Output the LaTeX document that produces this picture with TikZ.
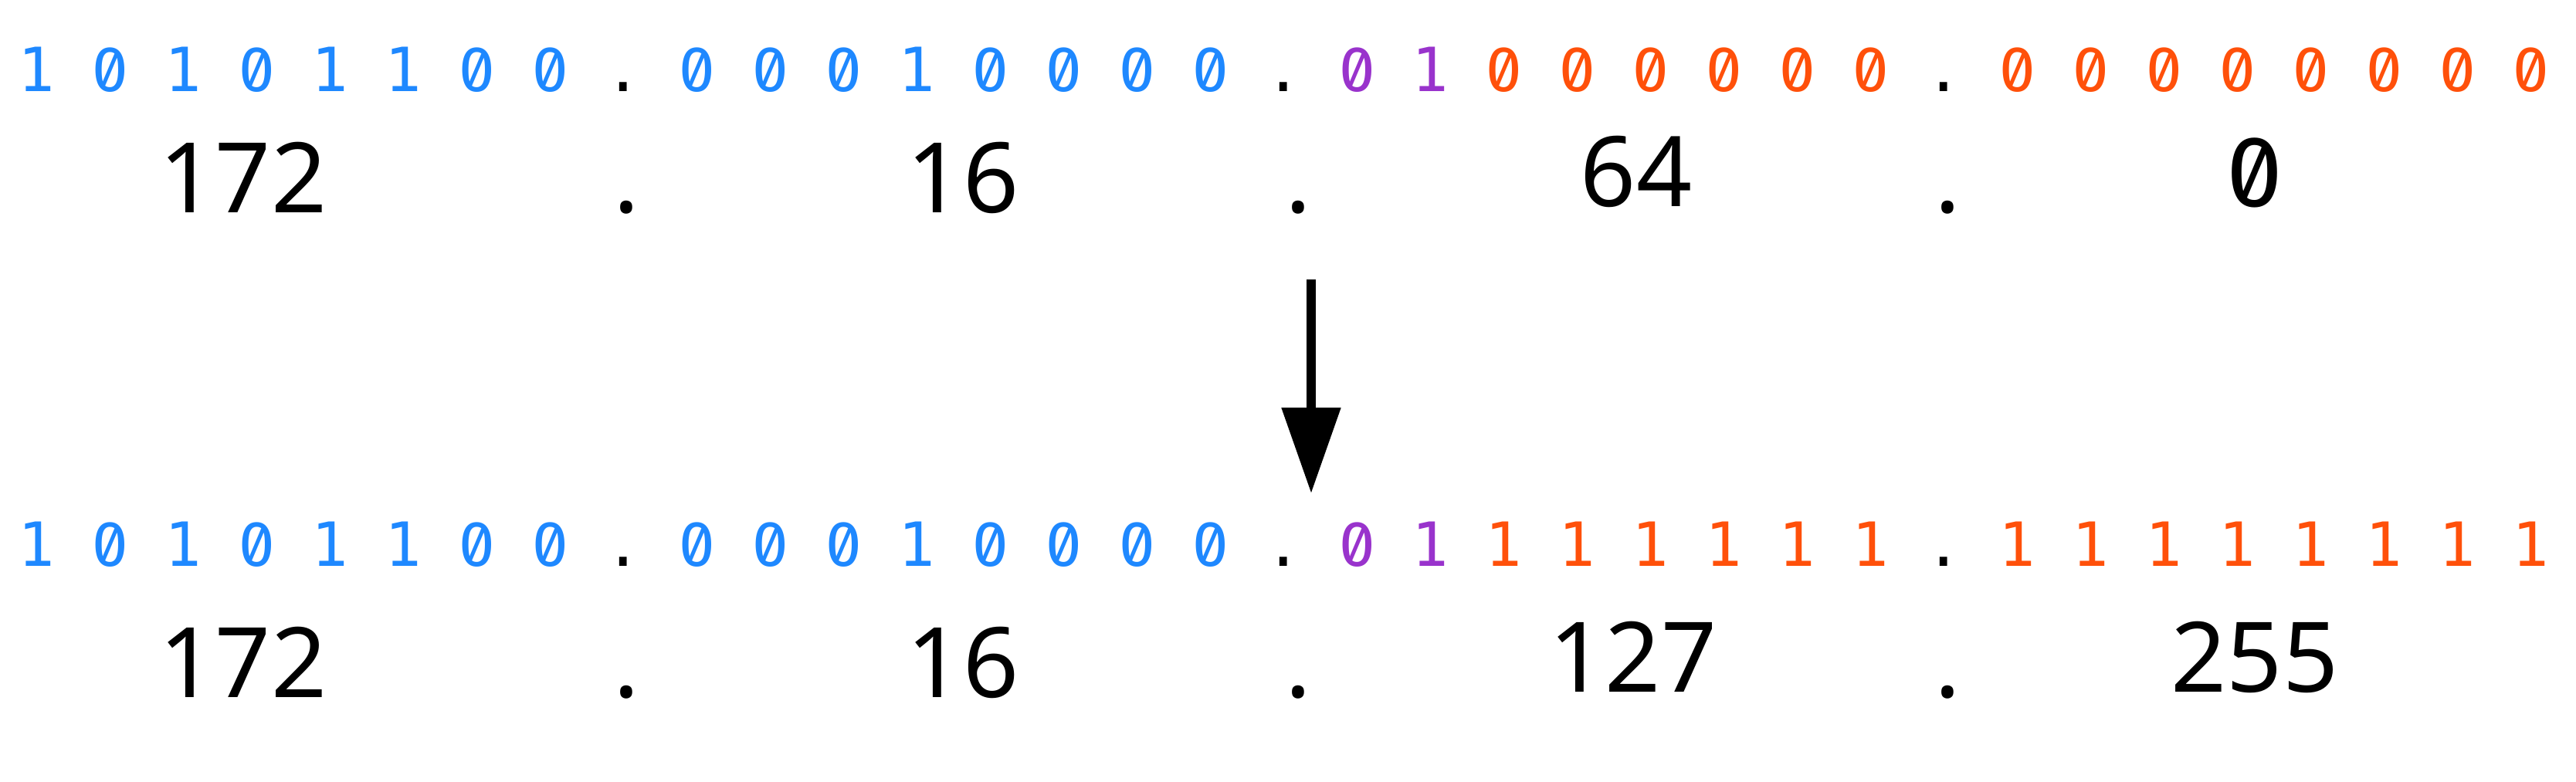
\documentclass[tikz,border=0pt]{standalone}
\usepackage{fontspec}
\setmonofont{DejaVu Sans Mono}
\newfontfamily\numfont{Noto Sans}
\newfontfamily\slzfont[RawFeature=+zero]{Fira Sans}
\usepackage{xcolor}
\usetikzlibrary{arrows.meta}
\definecolor{netblue}{RGB}{30,136,255}
\definecolor{subpurple}{RGB}{153,51,204}
\definecolor{hostorange}{RGB}{255,80,10}
% slashed zero, one monospace cell wide
\newcommand{\zz}{\makebox[0.602em]{\slzfont\fontsize{1.058em}{1.2em}\selectfont 0}}
\newcommand{\netbits}[1]{\textcolor{netblue}{#1}}
\newcommand{\subbits}[1]{\textcolor{subpurple}{#1}}
\newcommand{\hostbits}[1]{\textcolor{hostorange}{#1}}

\begin{document}
\begin{tikzpicture}[
		bits/.style={anchor=base west,inner sep=0pt,font=\ttfamily\fontsize{22.45}{24}\selectfont},
		dec/.style={anchor=base,inner sep=0pt,font=\numfont\fontsize{35.9}{40}\selectfont},
		decmono/.style={anchor=base,inner sep=0pt,font=\slzfont\fontsize{37.2}{40}\selectfont}]
		\useasboundingbox (0,0) rectangle (33.36,-10.12);
		
		% network address
		\node[bits] (binnet) at (0.23,-1.18) {\netbits{1 \zz{} 1 \zz{} 1 1 \zz{} \zz} . \netbits{\zz{} \zz{} \zz{} 1 \zz{} \zz{} \zz{} \zz} . \subbits{\zz{} 1} \hostbits{\zz{} \zz{} \zz{} \zz{} \zz{} \zz} . \hostbits{\zz{} \zz{} \zz{} \zz{} \zz{} \zz{} \zz{} \zz}};
		\node[dec] (net1) at (3.15,-2.75) {172};
		\node[dec] (netdot1) at (8.11,-2.75) {.};
		\node[dec] (net2) at (12.47,-2.75) {16};
		\node[dec] (netdot2) at (16.81,-2.75) {.};
		\node[dec] (net3) at (21.19,-2.67) {64};
		\node[dec] (netdot3) at (25.22,-2.75) {.};
		\node[decmono] (net4) at (29.20,-2.67) {0};
		
		% broadcast address
		\node[bits] (binbcast) at (0.23,-7.33) {\netbits{1 \zz{} 1 \zz{} 1 1 \zz{} \zz} . \netbits{\zz{} \zz{} \zz{} 1 \zz{} \zz{} \zz{} \zz} . \subbits{\zz{} 1} \hostbits{1 1 1 1 1 1} . \hostbits{1 1 1 1 1 1 1 1}};
		\node[dec] (bcast1) at (3.15,-9.03) {172};
		\node[dec] (bcastdot1) at (8.11,-9.03) {.};
		\node[dec] (bcast2) at (12.47,-9.03) {16};
		\node[dec] (bcastdot2) at (16.81,-9.03) {.};
		\node[dec] (bcast3) at (21.15,-8.96) {127};
		\node[dec] (bcastdot3) at (25.22,-9.03) {.};
		\node[dec] (bcast4) at (29.20,-8.96) {255};
		
		\coordinate (arrtop) at (16.98,-3.62);
		\coordinate (arrtip) at (16.98,-6.39);
		\draw[line width=0.12cm,-{Triangle[length=1.11cm,width=0.74cm]}] (arrtop) -- (arrtip);
\end{tikzpicture}
\end{document}
